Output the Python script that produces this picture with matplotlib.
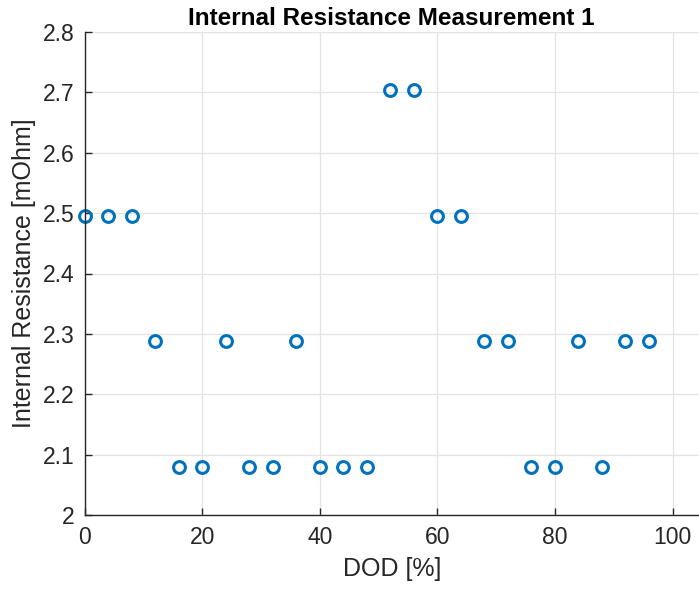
import matplotlib
matplotlib.use("Agg")
import matplotlib.pyplot as plt

plt.rcParams['font.family'] = ['Liberation Sans', 'DejaVu Sans']

dod = [0, 4, 8, 12, 16, 20, 24, 28, 32, 36, 40, 44, 48, 52, 56, 60, 64, 68, 72, 76, 80, 84, 88, 92, 96]
resistance = [2.496, 2.496, 2.496, 2.288, 2.080, 2.080, 2.288, 2.080, 2.080, 2.288, 2.080, 2.080, 2.080,
              2.704, 2.704, 2.496, 2.496, 2.288, 2.288, 2.080, 2.080, 2.288, 2.080, 2.288, 2.288]
xticks = [0, 20, 40, 60, 80, 100]
yticks = [2, 2.1, 2.2, 2.3, 2.4, 2.5, 2.6, 2.7, 2.8]

fig = plt.figure(figsize=(6.99, 5.90), dpi=100)
ax = fig.add_axes([84.5/699, 1-515/590, 1-84.5/699, (515-32)/590])
ax.plot(dod, resistance, linestyle='none', marker='o', markersize=8.5, markerfacecolor='none',
        markeredgecolor='#0072BD', markeredgewidth=2.2, clip_on=False)
ax.set_xlim(0, 104.5)
ax.set_ylim(2, 2.8)
ax.set_xticks(xticks)
ax.set_yticks(yticks)
ax.set_yticklabels(['2', '2.1', '2.2', '2.3', '2.4', '2.5', '2.6', '2.7', '2.8'])
ax.grid(True, color='#e3e3e3', linewidth=0.9)
ax.set_axisbelow(True)
for s in ['top', 'right']:
    ax.spines[s].set_visible(False)
for s in ['left', 'bottom']:
    ax.spines[s].set_color('#262626')
    ax.spines[s].set_linewidth(1.0)
ax.tick_params(direction='in', length=5, width=1, colors='#262626', labelsize=16.5)
ax.tick_params(axis='x', pad=8)
ax.tick_params(axis='y', pad=7)
ax.set_xlabel('DOD [%]', fontsize=18, color='#262626', labelpad=6)
ax.set_ylabel('Internal Resistance [mOhm]', fontsize=18, color='#262626', labelpad=5)
ax.set_title('Internal Resistance Measurement 1', fontsize=17.5, fontweight='bold', pad=5)
fig.savefig('out.png', dpi=100)
